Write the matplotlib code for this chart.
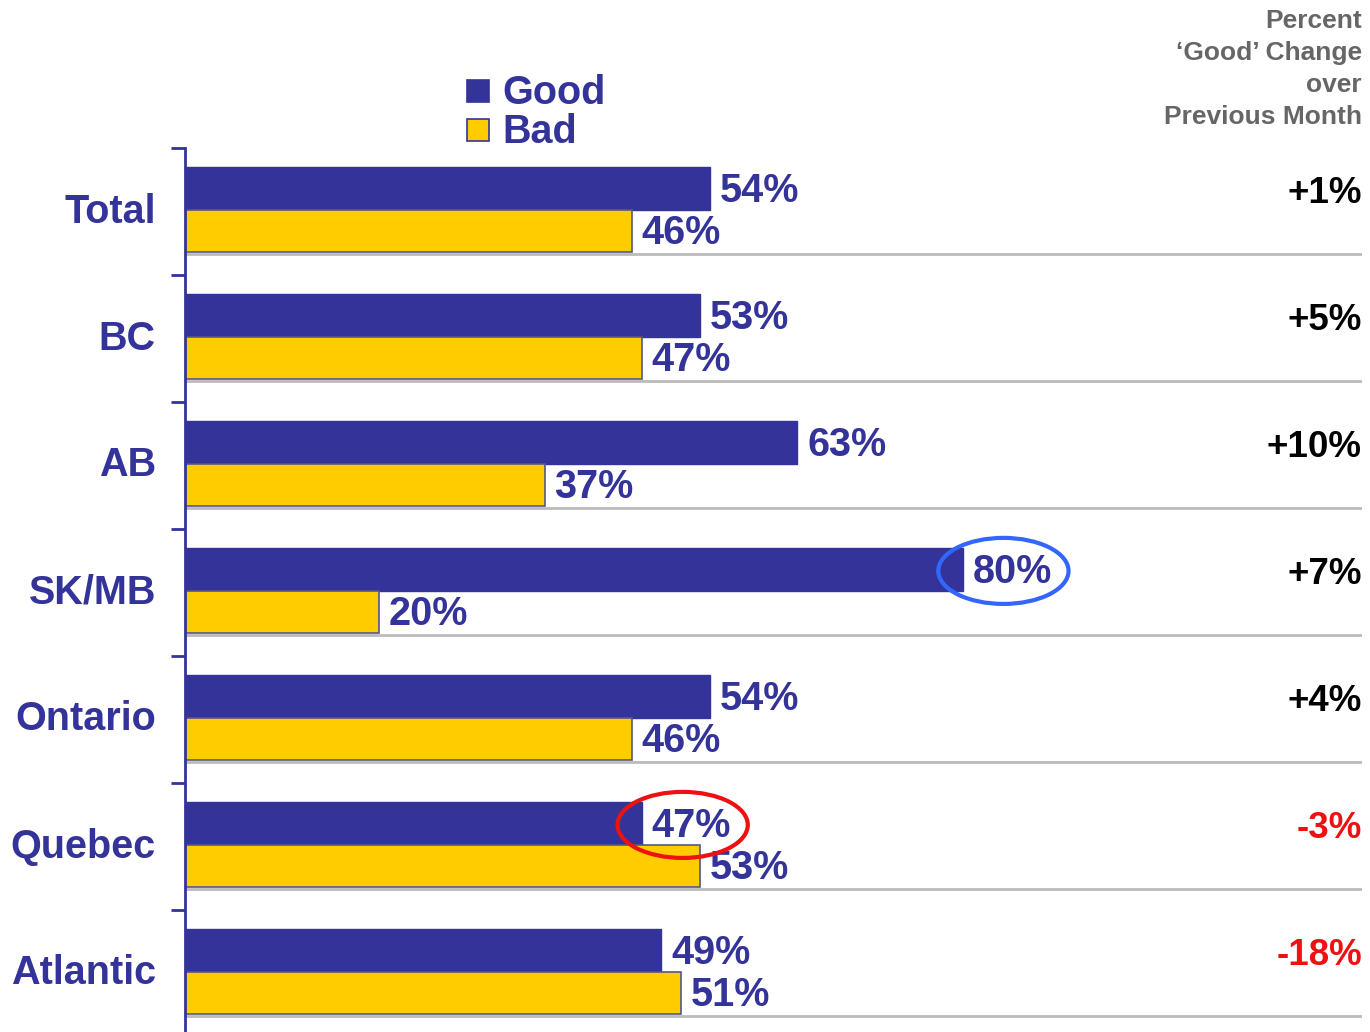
import matplotlib.pyplot as plt
from matplotlib.patches import Ellipse, Rectangle

regions = ["Total", "BC", "AB", "SK/MB", "Ontario", "Quebec", "Atlantic"]
good = [54, 53, 63, 80, 54, 47, 49]
bad = [46, 47, 37, 20, 46, 53, 51]
change = ["+1%", "+5%", "+10%", "+7%", "+4%", "-3%", "-18%"]
highlight = {"SK/MB": "#3366ff", "Quebec": "#ee1111"}

NAVY = "#333399"
GOLD = "#ffcc00"

plt.rcParams['font.family'] = ['Liberation Sans', 'DejaVu Sans']
plt.rcParams['font.weight'] = 'bold'

W, H = 1370, 1032
fig = plt.figure(figsize=(W / 100, H / 100), dpi=100)
# axes placed in pixel terms: left spine at x=185, top at y=148
ax = fig.add_axes([185 / W, 0, 1177 / W, (H - 148) / H])
px_per_pct = 9.72
ax.set_xlim(0, 1177 / px_per_pct)
pitch = 127.0
ax.set_ylim((H - 148) / pitch, 0)

for i, r in enumerate(regions):
    ax.barh(i + 0.32, good[i], height=0.34, color=NAVY, edgecolor=NAVY, lw=1)
    ax.barh(i + 0.655, bad[i], height=0.33, color=GOLD, edgecolor="#55558a", lw=1.2)
    ax.axhline(i + 0.835, xmin=0, xmax=1, color="#bbbbbb", lw=2, zorder=0)
    ax.annotate(f"{good[i]}%", (good[i], i + 0.335), xytext=(7, 0), textcoords="offset points",
                va="center", ha="left", fontsize=28.5, color=NAVY, fontweight="bold")
    ax.annotate(f"{bad[i]}%", (bad[i], i + 0.67), xytext=(7, 0), textcoords="offset points",
                va="center", ha="left", fontsize=28.5, color=NAVY, fontweight="bold")
    ax.text(-3.0, i + 0.5, r, ha="right", va="center", fontsize=28.5, color=NAVY, fontweight="bold")
    col = "#ee1111" if change[i].startswith("-") else "black"
    ax.text(1, i + 0.36, change[i], transform=ax.get_yaxis_transform(), ha="right", va="center",
            fontsize=26.5, color=col, fontweight="bold")
    if r in highlight:
        ax.add_patch(Ellipse((good[i] + 4.2, i + 0.33), 13.4, 0.52, fill=False,
                             edgecolor=highlight[r], lw=3, zorder=5))

ax.set_yticks(range(7))
ax.set_yticklabels([])
ax.set_xticks([])
ax.tick_params(axis="y", direction="out", length=10, width=2, color=NAVY)
for s in ["top", "right", "bottom"]:
    ax.spines[s].set_visible(False)
ax.spines["left"].set_color(NAVY)
ax.spines["left"].set_linewidth(2)

# legend
for y0, c, lab in [(80, NAVY, "Good"), (119, GOLD, "Bad")]:
    fig.patches.append(Rectangle((467 / W, 1 - (y0 + 22) / H), 22 / W, 22 / H,
                                 transform=fig.transFigure, facecolor=c, edgecolor=NAVY, lw=1.2))
    fig.text(502 / W, 1 - (y0 + 13) / H, lab, ha="left", va="center", fontsize=28.5,
             color=NAVY, fontweight="bold")

fig.text(1362 / W, 1 - 9 / H, "Percent\n\u2018Good\u2019 Change\nover\nPrevious Month",
         ha="right", va="top", fontsize=19, color="#666666", fontweight="bold", linespacing=1.42)

fig.savefig("out.png", dpi=100)
